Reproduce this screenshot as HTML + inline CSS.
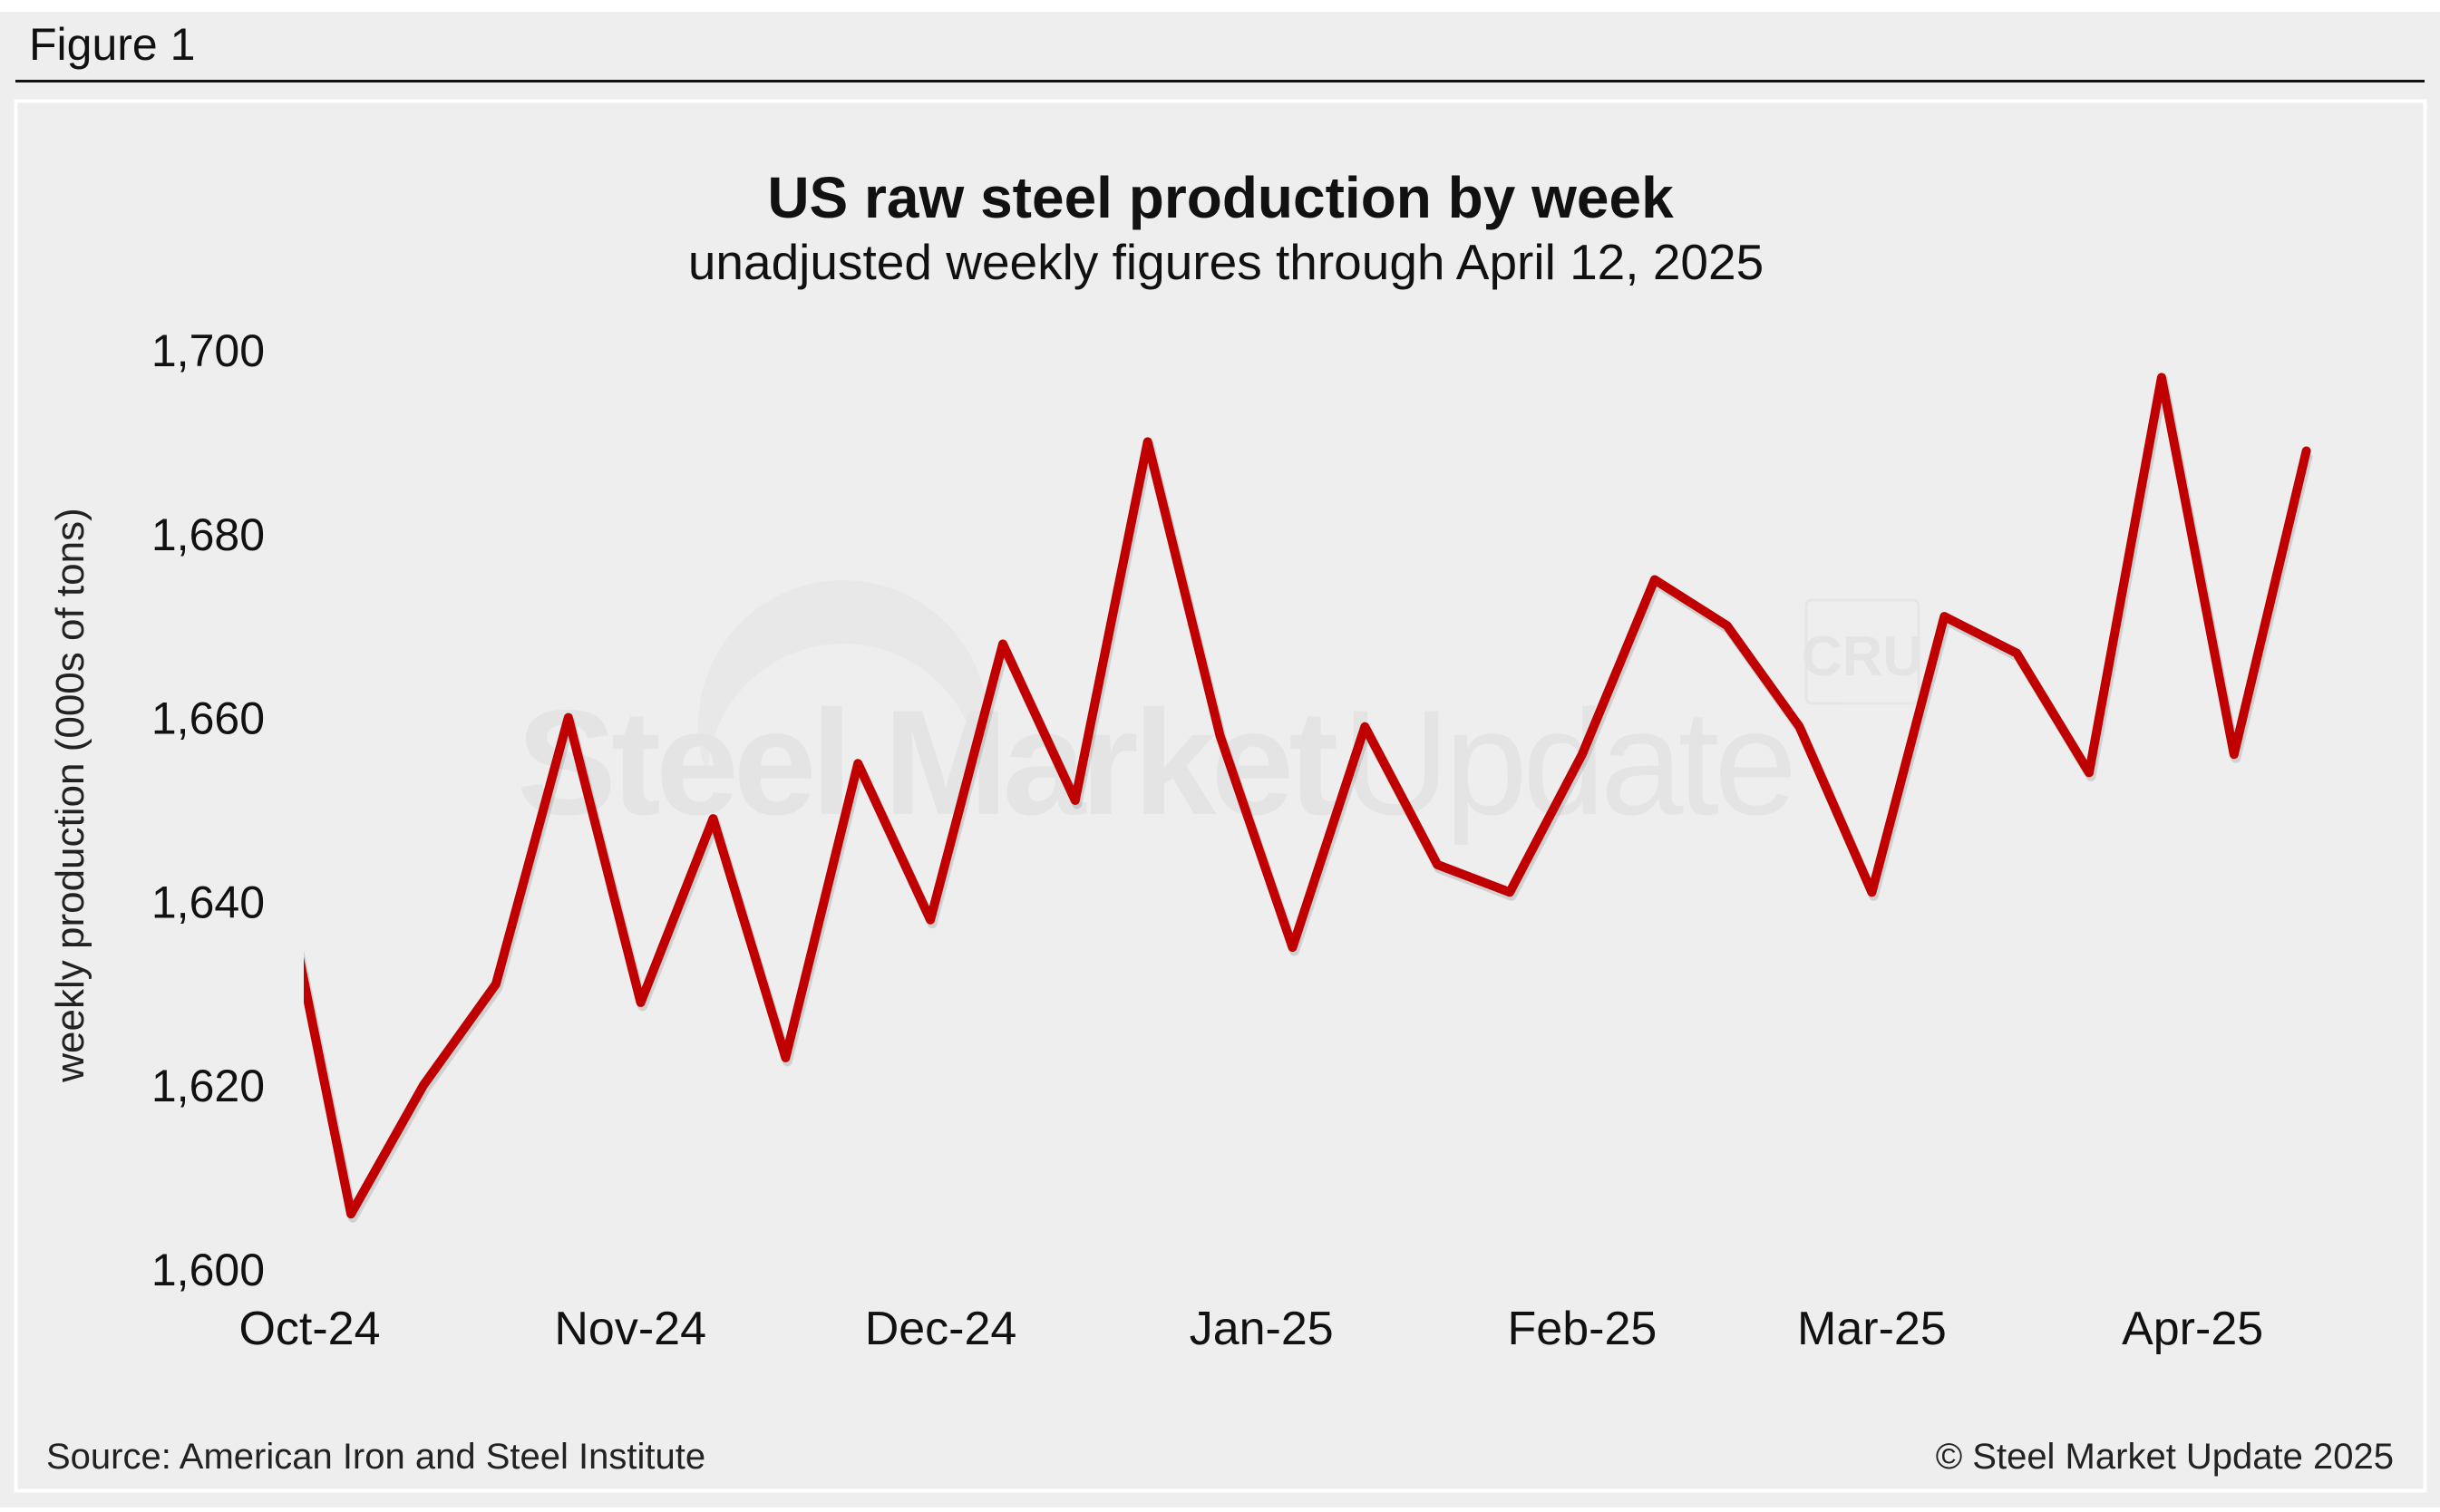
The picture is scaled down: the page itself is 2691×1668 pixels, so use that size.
<!DOCTYPE html>
<html><head><meta charset="utf-8">
<style>
html,body{margin:0;padding:0;background:#fff;}
body{width:2691px;height:1663px;position:relative;overflow:hidden;font-family:"Liberation Sans",Arial,sans-serif;}
</style></head>
<body>
<svg width="2691" height="1663" viewBox="0 0 2691 1663" xmlns="http://www.w3.org/2000/svg">
<rect x="0" y="13" width="2691" height="1650" fill="#eeeeee"/>
<text x="32" y="66" font-size="50" fill="#111">Figure 1</text>
<rect x="17" y="88" width="2657" height="3" fill="#111"/>
<rect x="17.5" y="111.5" width="2657" height="1533" fill="#eeeeee" stroke="#ffffff" stroke-width="4"/>
<g opacity="0.5">
<circle cx="930" cy="800" r="160" fill="#e4e4e4"/>
<circle cx="930" cy="860" r="150" fill="#eeeeee"/>
<text x="570" y="898" font-size="165" font-weight="bold" fill="#dcdcdc" letter-spacing="-6">Steel Market</text>
<text x="1480" y="898" font-size="165" fill="#dcdcdc" letter-spacing="-6">Update</text>
<rect x="1992" y="662" width="124" height="114" rx="6" fill="none" stroke="#dedede" stroke-width="3"/>
<text x="2054" y="745" font-size="62" font-weight="bold" fill="#dcdcdc" text-anchor="middle">CRU</text>
</g>
<text x="1346" y="240" font-size="64" font-weight="bold" text-anchor="middle" fill="#111">US raw steel production by week</text>
<text x="1352" y="308" font-size="55" text-anchor="middle" fill="#111">unadjusted weekly figures through April 12, 2025</text>
<text transform="translate(92,877) rotate(-90)" font-size="44" text-anchor="middle" fill="#222">weekly production (000s of tons)</text>
<g id="yticks"></g>
<g id="xticks"></g>
<defs><clipPath id="plotclip"><rect x="335" y="300" width="2300" height="1200"/></clipPath></defs>
<g id="series" clip-path="url(#plotclip)"></g>
<text x="51" y="1620" font-size="40" fill="#222">Source: American Iron and Steel Institute</text>
<text x="2640" y="1620" font-size="40" fill="#222" text-anchor="end">© Steel Market Update 2025</text>
</svg>
<script>
const weekDates = ["2024-09-28","2024-10-05","2024-10-12","2024-10-19","2024-10-26","2024-11-02","2024-11-09","2024-11-16","2024-11-23","2024-11-30","2024-12-07","2024-12-14","2024-12-21","2024-12-28","2025-01-04","2025-01-11","2025-01-18","2025-01-25","2025-02-01","2025-02-08","2025-02-15","2025-02-22","2025-03-01","2025-03-08","2025-03-15","2025-03-22","2025-03-29","2025-04-05","2025-04-12"];
const production = [1645,1606,1620,1631,1660,1629,1649,1623,1655,1638,1668,1651,1690,1658,1635,1659,1644,1641,1656,1675,1670,1659,1641,1671,1667,1654,1697,1656,1689];
const yTicks = [1600,1620,1640,1660,1680,1700];
const yTickLabels = ["1,600","1,620","1,640","1,660","1,680","1,700"];
const monthDates = ["2024-10-01","2024-11-01","2024-12-01","2025-01-01","2025-02-01","2025-03-01","2025-04-01"];
const monthLabels = ["Oct-24","Nov-24","Dec-24","Jan-25","Feb-25","Mar-25","Apr-25"];

const NS="http://www.w3.org/2000/svg";
const DAY=86400000, X0=Date.parse("2024-10-01"), X0PX=341.5, PXDAY=11.41;
function xScale(d){return X0PX+(Date.parse(d)-X0)/DAY*PXDAY;}
const YMIN=1600,YMAX=1700,YB=1400,YT=386;
function yScale(v){return YB-(v-YMIN)/(YMAX-YMIN)*(YB-YT);}

const yg=document.getElementById('yticks');
yTicks.forEach((v,i)=>{
  const t=document.createElementNS(NS,'text');
  t.setAttribute('x',292);t.setAttribute('y',yScale(v)+18);
  t.setAttribute('font-size','50');t.setAttribute('text-anchor','end');t.setAttribute('fill','#111');
  t.textContent=yTickLabels[i];
  
  
  yg.appendChild(t);
});
const xg=document.getElementById('xticks');
monthDates.forEach((d,i)=>{
  const t=document.createElementNS(NS,'text');
  t.setAttribute('x',xScale(d));t.setAttribute('y',1483);
  t.setAttribute('font-size','52');t.setAttribute('text-anchor','middle');t.setAttribute('fill','#111');
  t.textContent=monthLabels[i];
  
  
  xg.appendChild(t);
});
const pts=weekDates.map((d,i)=>xScale(d).toFixed(1)+","+yScale(production[i]).toFixed(1)).join(" ");
const sg=document.getElementById('series');
const sh=document.createElementNS(NS,'polyline');
sh.setAttribute('points',pts);sh.setAttribute('fill','none');sh.setAttribute('stroke','rgba(0,0,0,0.12)');
sh.setAttribute('stroke-width','11');sh.setAttribute('stroke-linejoin','round');sh.setAttribute('transform','translate(2,4)');


sg.appendChild(sh);
const pl=document.createElementNS(NS,'polyline');
pl.setAttribute('points',pts);pl.setAttribute('fill','none');pl.setAttribute('stroke','#c00000');
pl.setAttribute('stroke-width','10');pl.setAttribute('stroke-linejoin','round');pl.setAttribute('stroke-linecap','round');


sg.appendChild(pl);
</script>
</body></html>
